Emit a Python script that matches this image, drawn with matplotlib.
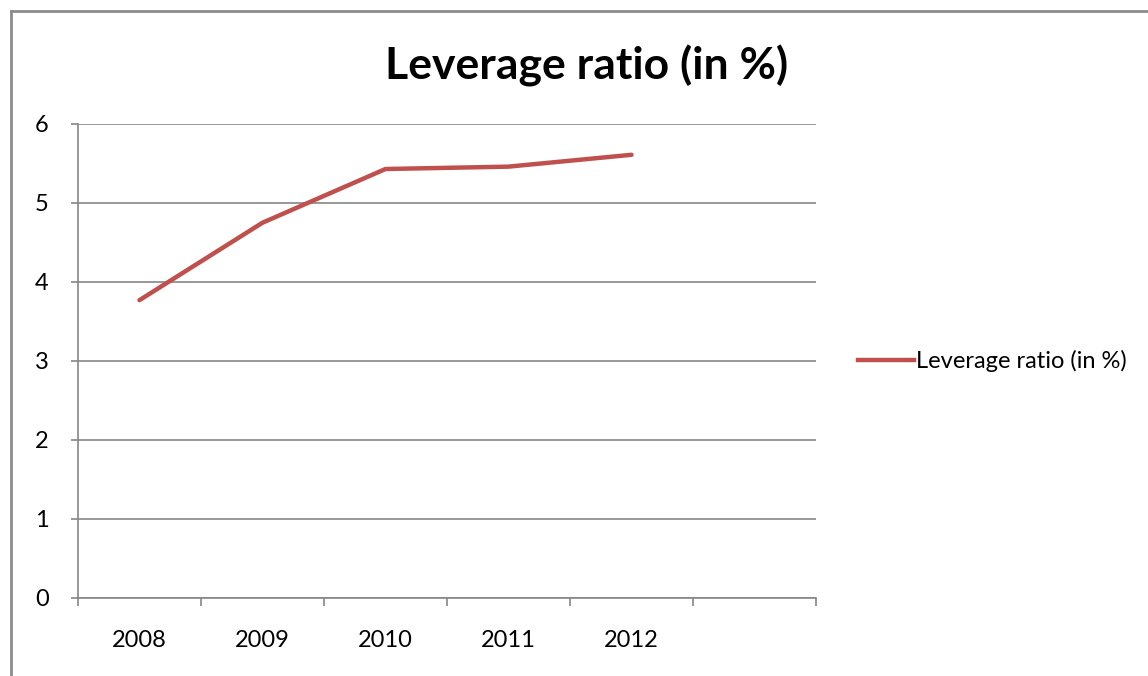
import numpy as np
import matplotlib.pyplot as plt
from matplotlib.lines import Line2D

years = ['2008', '2009', '2010', '2011', '2012']
leverage = [3.77, 4.75, 5.43, 5.46, 5.61]
n_slots = 6

plt.rcParams['font.family'] = ['Lato', 'DejaVu Sans']
grey = '#868686'

fig = plt.figure(figsize=(11.48, 6.76), dpi=100)
ax = fig.add_axes([0.0679, 0.1154, 0.6429, 0.7012])

x = np.arange(len(years))
ax.plot(x, leverage, color='#C0504D', linewidth=3.2, solid_capstyle='round')

ax.set_xlim(-0.5, n_slots - 0.5)
ax.set_ylim(0, 6)
ax.set_yticks(range(0, 7))
ax.yaxis.grid(True, color=grey, linewidth=1.2)
ax.set_axisbelow(True)

ax.set_xticks(np.arange(-0.5, n_slots, 1.0))
ax.set_xticklabels([])
ax.set_xticks(x, minor=True)
ax.set_xticklabels(years, minor=True)
ax.tick_params(axis='x', which='major', direction='out', length=6, width=1.2, color=grey)
ax.tick_params(axis='x', which='minor', length=0, pad=23, labelsize=17)
ax.tick_params(axis='y', direction='out', length=5, width=1.2, color=grey, pad=16, labelsize=17)

for s in ['top', 'right']:
    ax.spines[s].set_visible(False)
for s in ['left', 'bottom']:
    ax.spines[s].set_color(grey)
    ax.spines[s].set_linewidth(1.2)

fig.text(0.511, 0.903, 'Leverage ratio (in %)', ha='center', va='center',
         fontsize=32, fontweight='bold')

handle = Line2D([], [], color='#C0504D', linewidth=3.2)
fig.legend([handle], ['Leverage ratio (in %)'], loc='center left',
           bbox_to_anchor=(0.729, 0.466), frameon=False, fontsize=17,
           handlelength=2.35, handletextpad=0.12)

# outer chart border
fig.add_artist(Line2D([0.0096, 0.0096], [0, 0.983], color='#8c8c8c', linewidth=2, transform=fig.transFigure))
fig.add_artist(Line2D([0.0096, 1.0], [0.983, 0.983], color='#8c8c8c', linewidth=2, transform=fig.transFigure))

fig.savefig('out.png', dpi=100)
